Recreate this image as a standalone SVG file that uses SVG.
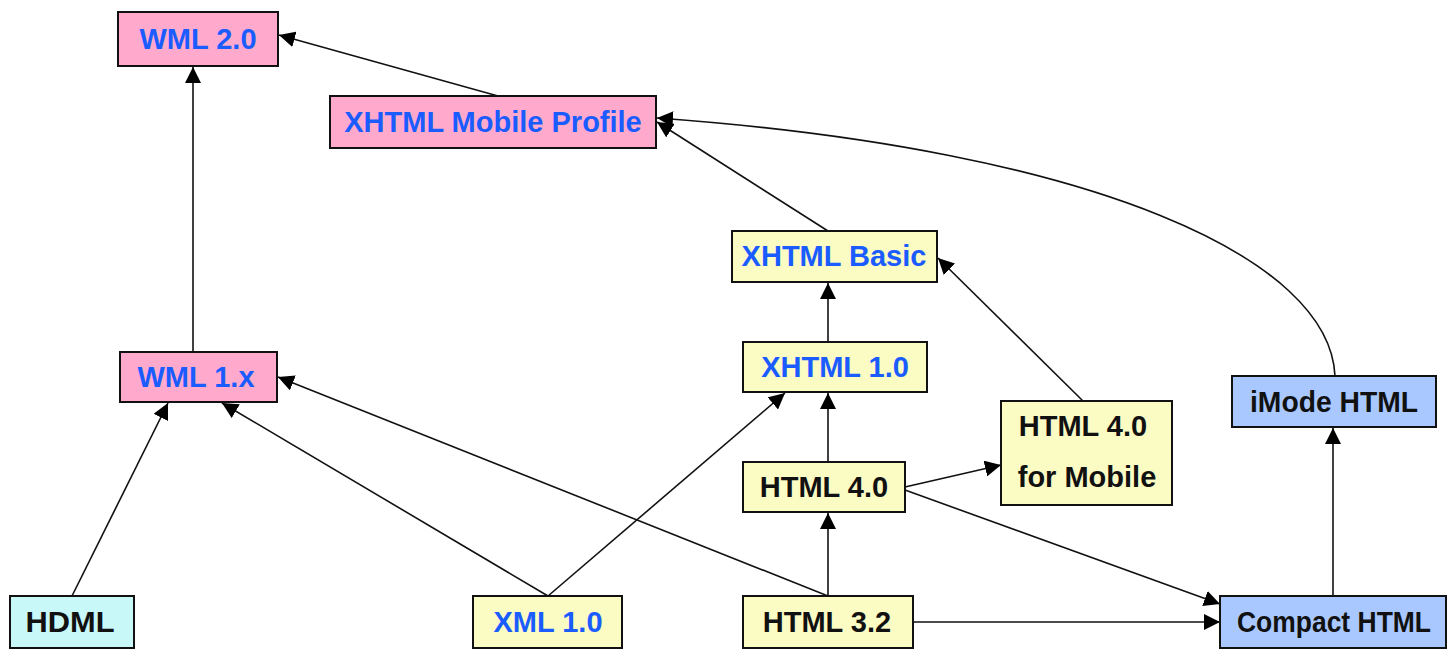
<svg xmlns="http://www.w3.org/2000/svg" width="1454" height="652" viewBox="0 0 1454 652">
  <defs>
    <marker id="arr" viewBox="0 0 16 16" refX="16" refY="8" markerWidth="16" markerHeight="16" markerUnits="userSpaceOnUse" orient="auto">
      <path d="M0,0 L16,8 L0,16 Z" fill="#000"/>
    </marker>
  </defs>
  <style>
    rect { stroke: #111; stroke-width: 2; }
    .pink { fill: #ffaacc; }
    .yel { fill: #fbfbc4; }
    .cyan { fill: #c8f8f8; }
    .blue { fill: #a8c8ff; }
    text { font-family: "Liberation Sans", Arial, sans-serif; font-weight: bold; font-size: 29px; text-anchor: middle; }
    .b { fill: #1a5cff; }
    .k { fill: #111; }
    .edge { fill: none; stroke: #111; stroke-width: 1.6; marker-end: url(#arr); }
  </style>

  <g id="connectors">
    <path class="edge" d="M193,352 L193,67"/>
    <path class="edge" d="M498,96 L279,35"/>
    <path class="edge" d="M828,231 L657,122"/>
    <path class="edge" d="M1335,376 C1330,260 1100,150 657,118"/>
    <path class="edge" d="M828,342 L828,283"/>
    <path class="edge" d="M1083,401 L938,258"/>
    <path class="edge" d="M828,462 L828,393"/>
    <path class="edge" d="M548,596 L785,393"/>
    <path class="edge" d="M905,487 L1001,465"/>
    <path class="edge" d="M905,490 L1220,604"/>
    <path class="edge" d="M828,596 L828,513"/>
    <path class="edge" d="M913,622 L1220,622"/>
    <path class="edge" d="M1333,596 L1333,428"/>
    <path class="edge" d="M72,596 L168,403"/>
    <path class="edge" d="M548,596 L222,403"/>
    <path class="edge" d="M828,596 L278,377"/>
  </g>

  <g id="wml20"><rect class="pink" x="118" y="12" width="160" height="54"/><text class="b" x="198" y="49">WML 2.0</text></g>
  <g id="xhtml-mp"><rect class="pink" x="330" y="96" width="326" height="52"/><text class="b" x="493" y="132">XHTML Mobile Profile</text></g>
  <g id="xhtml-basic"><rect class="yel" x="732" y="231" width="205" height="51"/><text class="b" x="834" y="266">XHTML Basic</text></g>
  <g id="xhtml10"><rect class="yel" x="743" y="342" width="184" height="50"/><text class="b" x="835" y="377">XHTML 1.0</text></g>
  <g id="wml1x"><rect class="pink" x="120" y="352" width="157" height="50"/><text class="b" x="196" y="387">WML 1.x</text></g>
  <g id="imode"><rect class="blue" x="1232" y="376" width="204" height="51"/><text class="k" x="1334" y="412" textLength="168" lengthAdjust="spacingAndGlyphs">iMode HTML</text></g>
  <g id="html40m"><rect class="yel" x="1001" y="401" width="171" height="104"/><text class="k" x="1083" y="436">HTML 4.0</text><text class="k" x="1087" y="487">for Mobile</text></g>
  <g id="html40"><rect class="yel" x="743" y="462" width="162" height="50"/><text class="k" x="824" y="497">HTML 4.0</text></g>
  <g id="hdml"><rect class="cyan" x="10" y="596" width="124" height="52"/><text class="k" x="70" y="632" textLength="89" lengthAdjust="spacingAndGlyphs">HDML</text></g>
  <g id="xml10"><rect class="yel" x="473" y="596" width="149" height="52"/><text class="b" x="548" y="632">XML 1.0</text></g>
  <g id="html32"><rect class="yel" x="743" y="596" width="170" height="52"/><text class="k" x="827" y="632">HTML 3.2</text></g>
  <g id="chtml"><rect class="blue" x="1220" y="596" width="226" height="52"/><text class="k" x="1334" y="632" textLength="194" lengthAdjust="spacingAndGlyphs">Compact HTML</text></g>
</svg>
